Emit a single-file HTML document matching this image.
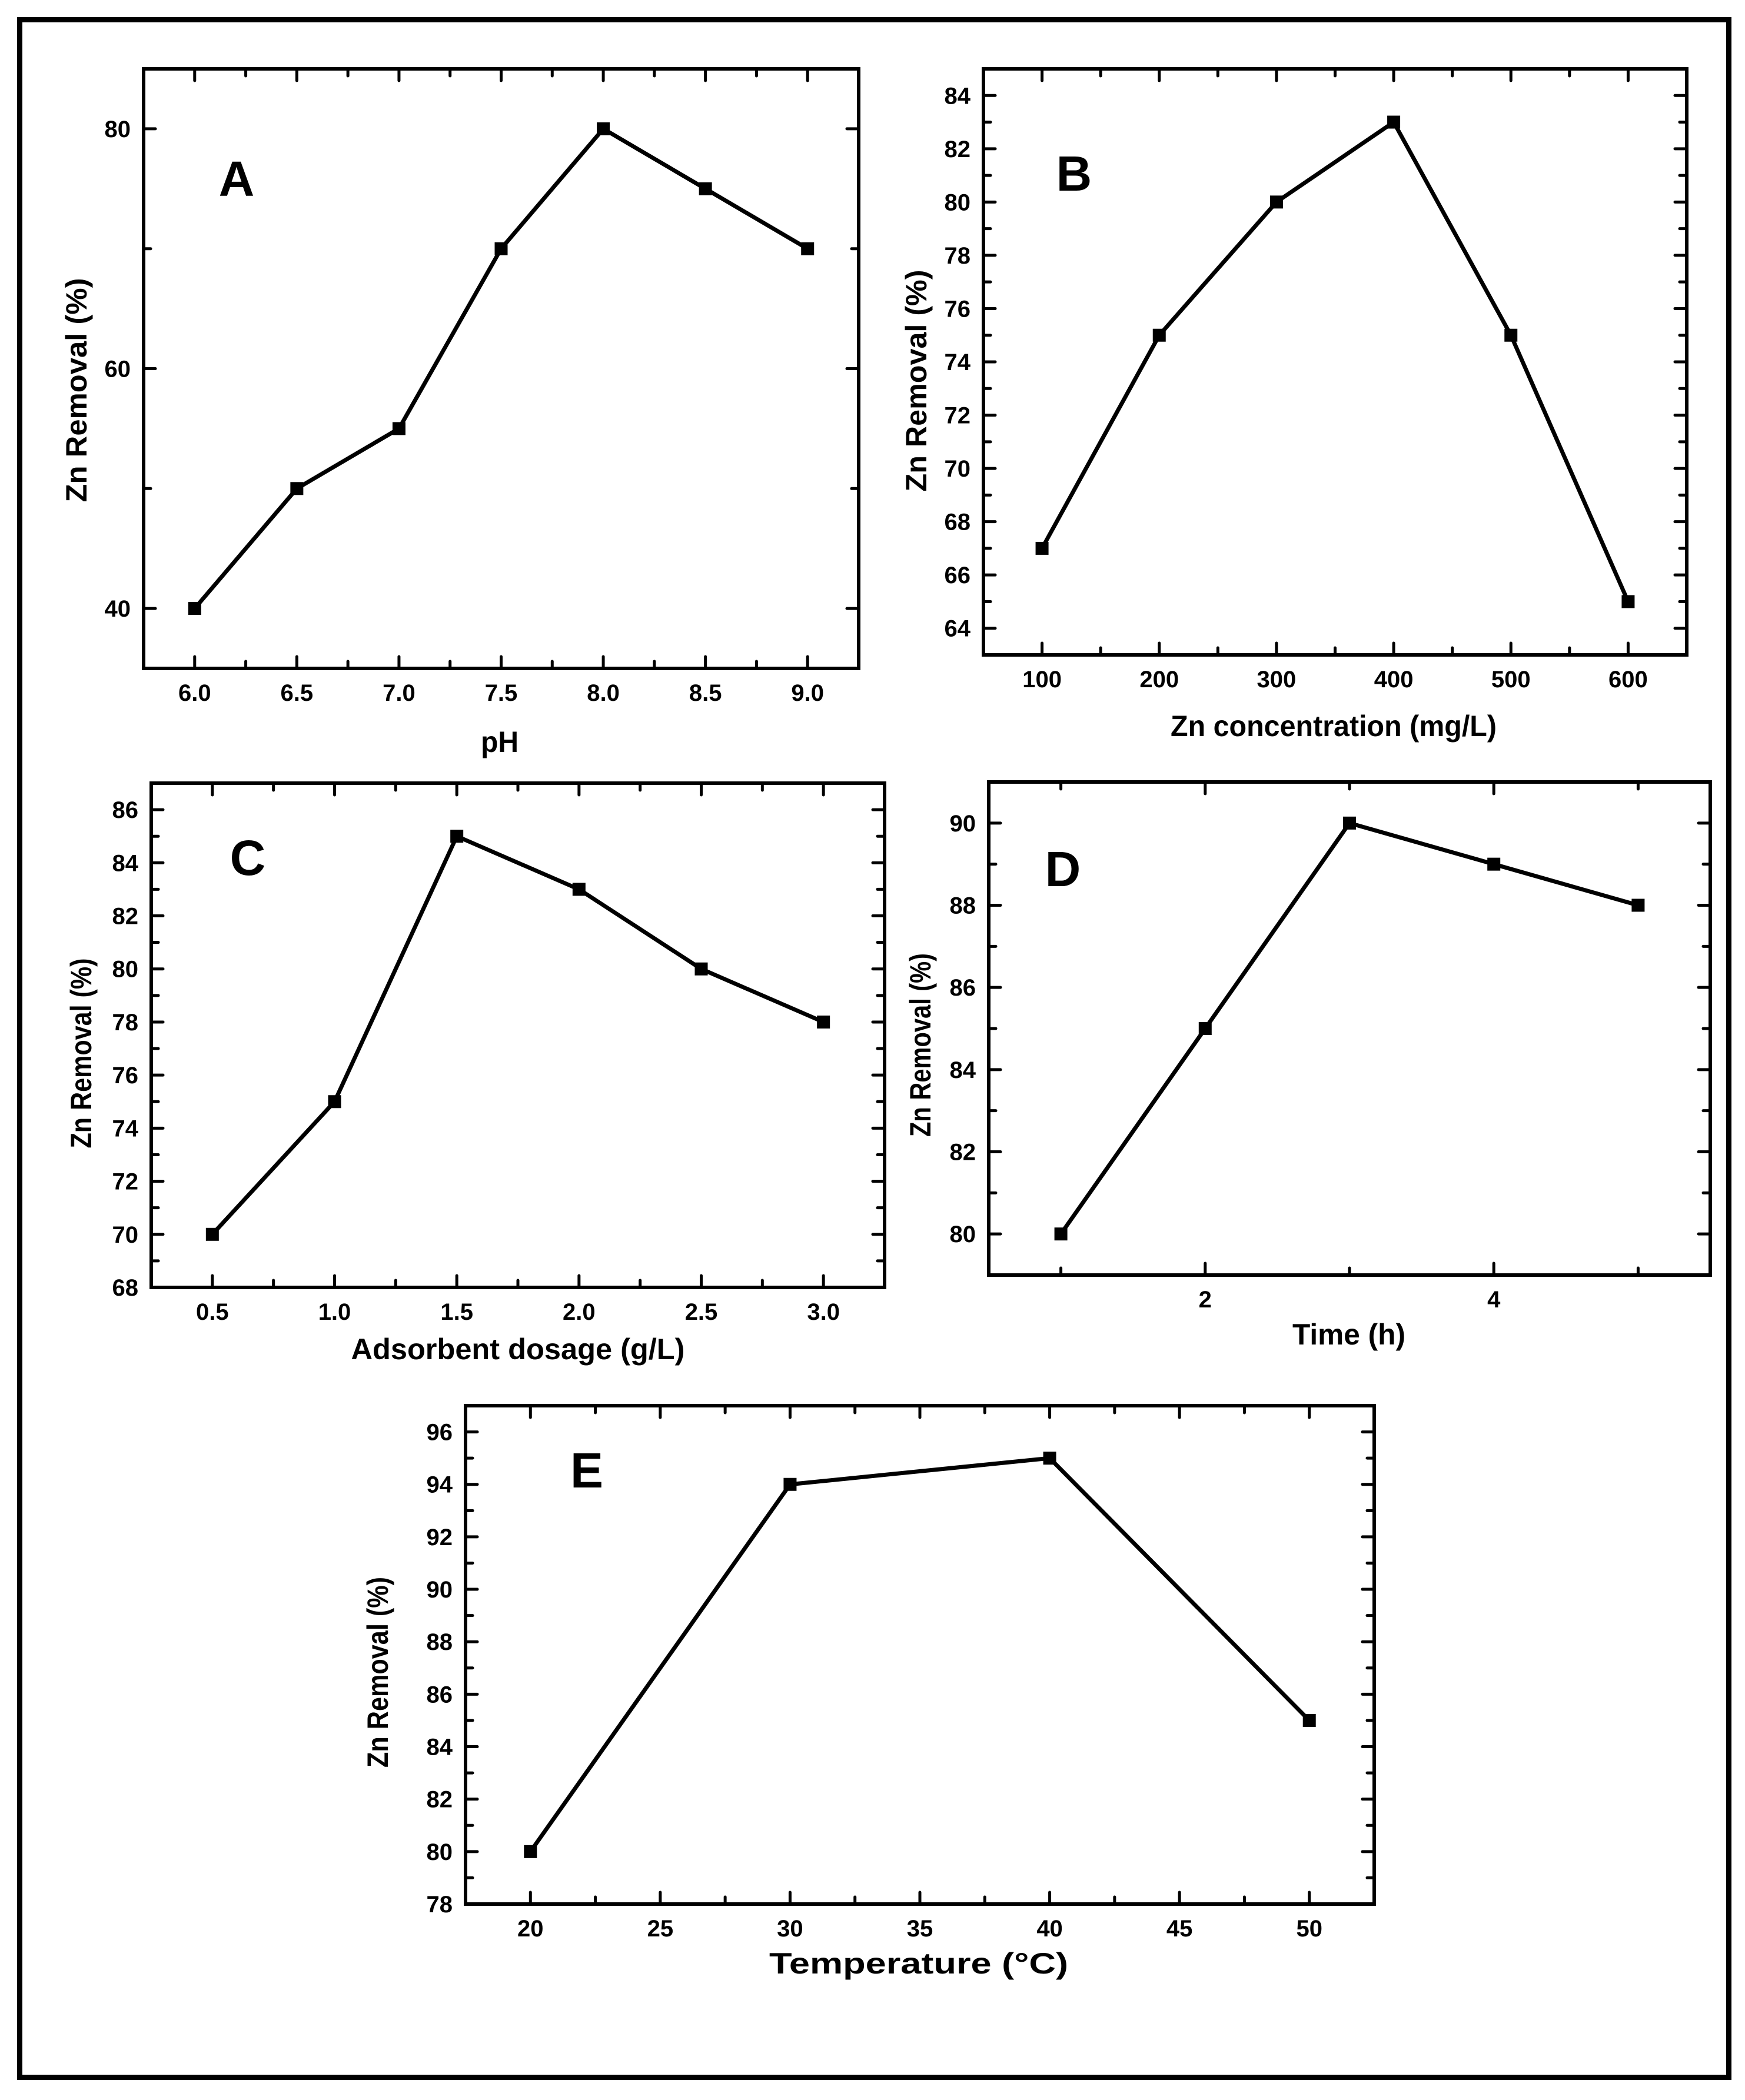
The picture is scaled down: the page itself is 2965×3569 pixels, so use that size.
<!DOCTYPE html>
<html><head><meta charset="utf-8">
<style>
html,body{margin:0;padding:0;background:#fff;}
svg{display:block;}
text{font-family:"Liberation Sans",Arial,sans-serif;font-weight:bold;fill:#000;}
</style></head>
<body>
<svg id="fig" xmlns="http://www.w3.org/2000/svg" width="2965" height="3569" viewBox="0 0 2965 3569">
<rect x="33.5" y="33.5" width="2904" height="3497" fill="none" stroke="#000" stroke-width="9"/>
</svg>
<script>
// Panel A
const aX = [6.0, 6.5, 7.0, 7.5, 8.0, 8.5, 9.0];
const aY = [40, 50, 55, 70, 80, 75, 70];
const aXTicks = ["6.0","6.5","7.0","7.5","8.0","8.5","9.0"];
const aYTicks = ["40","60","80"];
// Panel B
const bX = [100, 200, 300, 400, 500, 600];
const bY = [67, 75, 80, 83, 75, 65];
const bXTicks = ["100","200","300","400","500","600"];
const bYTicks = ["64","66","68","70","72","74","76","78","80","82","84"];
// Panel C
const cX = [0.5, 1.0, 1.5, 2.0, 2.5, 3.0];
const cY = [70, 75, 85, 83, 80, 78];
const cXTicks = ["0.5","1.0","1.5","2.0","2.5","3.0"];
const cYTicks = ["68","70","72","74","76","78","80","82","84","86"];
// Panel D
const dX = [1, 2, 3, 4, 5];
const dY = [80, 85, 90, 89, 88];
const dXTicks = ["2","4"];
const dYTicks = ["80","82","84","86","88","90"];
// Panel E
const eX = [20, 30, 40, 50];
const eY = [80, 94, 95, 85];
const eXTicks = ["20","25","30","35","40","45","50"];
const eYTicks = ["78","80","82","84","86","88","90","92","94","96"];

const NS = "http://www.w3.org/2000/svg";
const svg = document.getElementById('fig');
function mk(tag, attrs, parent){
  const e = document.createElementNS(NS, tag);
  for (const k in attrs) e.setAttribute(k, attrs[k]);
  (parent||svg).appendChild(e);
  return e;
}

function panel(cfg){
  const g = mk('g', {});
  
  
  const L=cfg.box[0], T=cfg.box[1], R=cfg.box[2], B=cfg.box[3];
  const sx = v => L + (v - cfg.xr[0]) / (cfg.xr[1]-cfg.xr[0]) * (R-L);
  const sy = v => B - (v - cfg.yr[0]) / (cfg.yr[1]-cfg.yr[0]) * (B-T);
  const tg = mk('g', {stroke:'#000','stroke-width':5,'stroke-linecap':'round'}, g);
  
  
  const eps=1e-6;
  for (let v = cfg.xmin0; v <= cfg.xr[1]+eps; v += cfg.xminor){
    if (v < cfg.xr[0]-eps) continue;
    const major = Math.abs(Math.round((v - cfg.xmaj0)/cfg.xmajor)*cfg.xmajor + cfg.xmaj0 - v) < 1e-6;
    const len = major?20:12; const x=sx(v);
    mk('line',{x1:x,y1:B,x2:x,y2:B-len},tg);
    mk('line',{x1:x,y1:T,x2:x,y2:T+len},tg);
  }
  for (let v = cfg.ymin0; v <= cfg.yr[1]+eps; v += cfg.yminor){
    if (v < cfg.yr[0]-eps) continue;
    const major = Math.abs(Math.round((v - cfg.ymaj0)/cfg.ymajor)*cfg.ymajor + cfg.ymaj0 - v) < 1e-6;
    const len = major?20:12; const y=sy(v);
    mk('line',{x1:L,y1:y,x2:L+len,y2:y},tg);
    mk('line',{x1:R,y1:y,x2:R-len,y2:y},tg);
  }
  const fr = mk('rect',{x:L,y:T,width:R-L,height:B-T,fill:'none',stroke:'#000','stroke-width':6},g);
  
  
  cfg.xt.forEach(s => {
    const t = mk('text',{x:sx(parseFloat(s)),y:B+55,'font-size':40,'text-anchor':'middle'},g);
    t.textContent = s;
    
    
  });
  cfg.yt.forEach(s => {
    const t = mk('text',{x:L-22,y:sy(parseFloat(s))+14,'font-size':40,'text-anchor':'end'},g);
    t.textContent = s;
    
    
  });
  const pts = cfg.x.map((v,i)=> sx(v)+','+sy(cfg.y[i])).join(' ');
  const pl = mk('polyline',{points:pts,fill:'none',stroke:'#000','stroke-width':7,'stroke-linejoin':'miter'},g);
  
  
  cfg.x.forEach((v,i)=>{
    const r = mk('rect',{x:sx(v)-11,y:sy(cfg.y[i])-11,width:22,height:22,fill:'#000'},g);
    
    
  });
  const xt = mk('text',{x:cfg.xtitle[1],y:cfg.xtitle[2]+18,'font-size':50,'text-anchor':'middle',textLength:cfg.xtitle[3],lengthAdjust:'spacingAndGlyphs'},g);
  xt.textContent = cfg.xtitle[0];
  
  
  const yt = mk('text',{x:0,y:0,'font-size':50,'text-anchor':'middle',textLength:cfg.ytitle[2],lengthAdjust:'spacingAndGlyphs',transform:'translate('+(cfg.ytitle[0]+18)+','+cfg.ytitle[1]+') rotate(-90)'},g);
  yt.textContent = 'Zn Removal (%)';
  
  
  const lt = mk('text',{x:cfg.letter[0],y:cfg.letter[1]+30,'font-size':84,'text-anchor':'middle'},g);
  lt.textContent = cfg.id;
  
  
}

panel({id:'A',box:[244,117,1459,1136],xr:[5.75,9.25],yr:[35,85],x:aX,y:aY,xt:aXTicks,yt:aYTicks,
  xmin0:6.0,xminor:0.25,xmaj0:6.0,xmajor:0.5,ymin0:40,yminor:10,ymaj0:40,ymajor:20,
  xtitle:['pH',849,1260,64],ytitle:[129,663,381],letter:[402,303]});
panel({id:'B',box:[1671,117,2866,1113],xr:[50,650],yr:[63,85],x:bX,y:bY,xt:bXTicks,yt:bYTicks,
  xmin0:50,xminor:50,xmaj0:100,xmajor:100,ymin0:63,yminor:1,ymaj0:64,ymajor:2,
  xtitle:['Zn concentration (mg/L)',2266,1233,554],ytitle:[1556,647,377],letter:[1825,294]});
panel({id:'C',box:[257,1331,1503,2188],xr:[0.25,3.25],yr:[68,87],x:cX,y:cY,xt:cXTicks,yt:cYTicks,
  xmin0:0.25,xminor:0.25,xmaj0:0.5,xmajor:0.5,ymin0:68,yminor:1,ymaj0:68,ymajor:2,
  xtitle:['Adsorbent dosage (g/L)',880,2292,567],ytitle:[137,1790,323],letter:[421,1457]});
panel({id:'D',box:[1680,1329,2906,2167],xr:[0.5,5.5],yr:[79,91],x:dX,y:dY,xt:dXTicks,yt:dYTicks,
  xmin0:1,xminor:1,xmaj0:2,xmajor:2,ymin0:79,yminor:1,ymaj0:80,ymajor:2,
  xtitle:['Time (h)',2292,2267,192],ytitle:[1563,1776,312],letter:[1806,1476]});
panel({id:'E',box:[791,2389,2335,3236],xr:[17.5,52.5],yr:[78,97],x:eX,y:eY,xt:eXTicks,yt:eYTicks,
  xmin0:17.5,xminor:2.5,xmaj0:20,xmajor:5,ymin0:78,yminor:1,ymaj0:78,ymajor:2,
  xtitle:['Temperature (°C)',1561,3336,508],ytitle:[641,2842,324],letter:[997,2498]});
</script>
</body></html>
